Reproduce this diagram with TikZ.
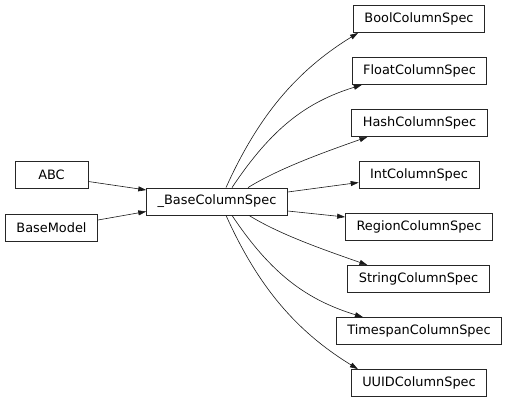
\documentclass[tikz,border=0pt]{standalone}
\usepackage{fontspec}
\setmainfont{DejaVu Sans}
\usetikzlibrary{arrows.meta}

\tikzstyle{classbox} = [draw=black!85,line width=0.8pt,rectangle,inner xsep=11pt,inner ysep=0pt,minimum height=27pt,minimum width=73pt,font=\fontsize{12.9}{15}\selectfont]
\tikzstyle{inherit} = [draw=black!90,line width=0.6pt,-{Triangle[length=8pt,width=5pt]}]

\begin{document}
\begin{tikzpicture}[x=1pt,y=-1pt]
    \useasboundingbox (0,0) rectangle (508,402);
    % nodes
    \foreach \nodename/\x/\y/\label in {
      bool/419/19/BoolColumnSpec,
      float/419.5/71/FloatColumnSpec,
      hash/419.5/123/HashColumnSpec,
      int/419/175/IntColumnSpec,
      region/419/227/RegionColumnSpec,
      string/418.5/279/StringColumnSpec,
      timespan/419/331/TimespanColumnSpec,
      uuid/419/383/UUIDColumnSpec,
      abc/51.5/174.5/ABC,
      basemodel/51.5/228/BaseModel,
      base/217/201.5/\_BaseColumnSpec}
    {
        \node[classbox] (\nodename) at (\x,\y) {\label};
    };
    % edges
    \draw[inherit] ([yshift=-7pt]abc.east) -- ([yshift=11.5pt]base.west);
    \draw[inherit] ([yshift=8pt]basemodel.east) -- ([yshift=-10pt]base.west);
    \draw[inherit] ([yshift=9.5pt]base.east) -- ([yshift=-7.5pt]int.west);
    \draw[inherit] ([yshift=-9.5pt]base.east) -- ([yshift=10pt]region.west);
    \foreach \endnode/\sx/\ex/\ca/\cb in {
      bool/9/5/{32,-71}/{-62,38},
      float/15/10/{40,-60}/{-55,17},
      hash/31/16/{32,-20}/{-38,13.5}}
    {
        \draw[inherit] ([xshift=\sx pt]base.north) .. controls +(\ca) and +(\cb) .. ([xshift=\ex pt]\endnode.south west);
    };
    \foreach \endnode/\sx/\ex/\ca/\cb in {
      string/32/20/{32,20}/{-38,-13.5},
      timespan/15/27/{40,60}/{-55,-17},
      uuid/9/7/{32,71}/{-62,-38}}
    {
        \draw[inherit] ([xshift=\sx pt]base.south) .. controls +(\ca) and +(\cb) .. ([xshift=\ex pt]\endnode.north west);
    };
\end{tikzpicture}
\end{document}
